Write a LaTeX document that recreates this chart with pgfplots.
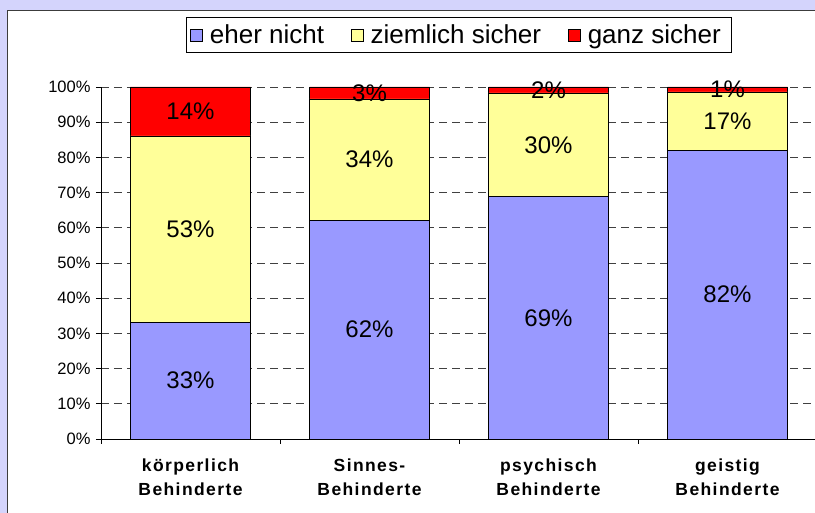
\documentclass[border=0pt]{standalone}
\usepackage{fontspec}
\setmainfont{Liberation Sans}
\usepackage{pgfplots}
\usepackage{pgfplotstable}
\pgfplotsset{compat=1.18}
\definecolor{bgl}{RGB}{212,212,252}
\definecolor{cblue}{RGB}{153,153,255}
\definecolor{cyel}{RGB}{255,255,153}
\definecolor{cred}{RGB}{255,0,0}
\definecolor{bord}{RGB}{60,60,60}
\pgfplotstableread{
x y lab
0 33.2 33
1 62.2 62
2 68.8 69
3 82.1 82
}\tblblue
\pgfplotstableread{
x y lab
0 52.9 53
1 34.4 34
2 29.5 30
3 16.5 17
}\tblyel
\pgfplotstableread{
x y lab
0 13.9 14
1 3.4 3
2 1.7 2
3 1.4 1
}\tblred
\begin{document}
\begin{tikzpicture}[x=1pt,y=1pt]
\useasboundingbox (0,0) rectangle (815,513);
\fill[bgl] (0,0) rectangle (815,513);
\filldraw[fill=white, draw=bord, line width=1pt] (7.5,-5) rectangle (830,502.5);
\begin{axis}[
  scale only axis,
  width=716pt, height=352pt,
  at={(101pt,74pt)}, anchor=south west,
  ybar stacked,
  bar width=120pt,
  xmin=-0.5, xmax=3.5,
  ymin=0, ymax=100,
  axis x line*=bottom, axis y line*=left,
  axis line style={black, line width=0.8pt},
  ytick={0,10,...,100},
  yticklabel={\pgfmathprintnumber{\tick}\%},
  xtick={0,1,2,3},
  xticklabels={{k\"orperlich\\Behinderte},{Sinnes-\\Behinderte},{psychisch\\Behinderte},{geistig\\Behinderte}},
  minor xtick={-0.5,0.5,1.5,2.5},
  major x tick style={draw=none},
  minor x tick style={draw=black, line width=0.8pt},
  y tick style={draw=black, line width=0.8pt},
  tick align=outside,
  major tick length=5pt, minor tick length=5pt,
  ymajorgrids,
  major grid style={draw=black!75, dash pattern=on 8pt off 5pt, line width=0.7pt},
  /pgf/number format/assume math mode=true,
  yticklabel style={font=\fontsize{16.5}{19}\selectfont, xshift=-2pt},
  xticklabel style={font=\bfseries\addfontfeature{LetterSpace=8}\fontsize{17.5}{24}\selectfont, align=center, yshift=-11pt},
  legend style={at={(0.5,1.148)}, anchor=center, draw=black, line width=0.8pt, fill=white,
    font=\fontsize{26}{28}\selectfont, legend columns=3,
    /tikz/every even column/.append style={column sep=20pt},
    inner xsep=4pt, inner ysep=5pt,
    nodes={inner xsep=7pt}},
  legend image code/.code={\draw[#1, draw=black, line width=0.6pt] (0pt,-6pt) rectangle (12pt,6pt);},
  point meta=explicit symbolic,
  nodes near coords={\pgfplotspointmeta\%},
  every node near coord/.append style={font=\fontsize{24}{28}\selectfont, anchor=center, black},
  clip=false,
]
\addplot[fill=cblue, draw=black, line width=0.8pt] table[x=x, y=y, meta=lab] {\tblblue};
\addplot[fill=cyel, draw=black, line width=0.8pt] table[x=x, y=y, meta=lab] {\tblyel};
\addplot[fill=cred, draw=black, line width=0.8pt] table[x=x, y=y, meta=lab] {\tblred};
\legend{eher nicht, ziemlich sicher, ganz sicher}
\end{axis}
\end{tikzpicture}
\end{document}
